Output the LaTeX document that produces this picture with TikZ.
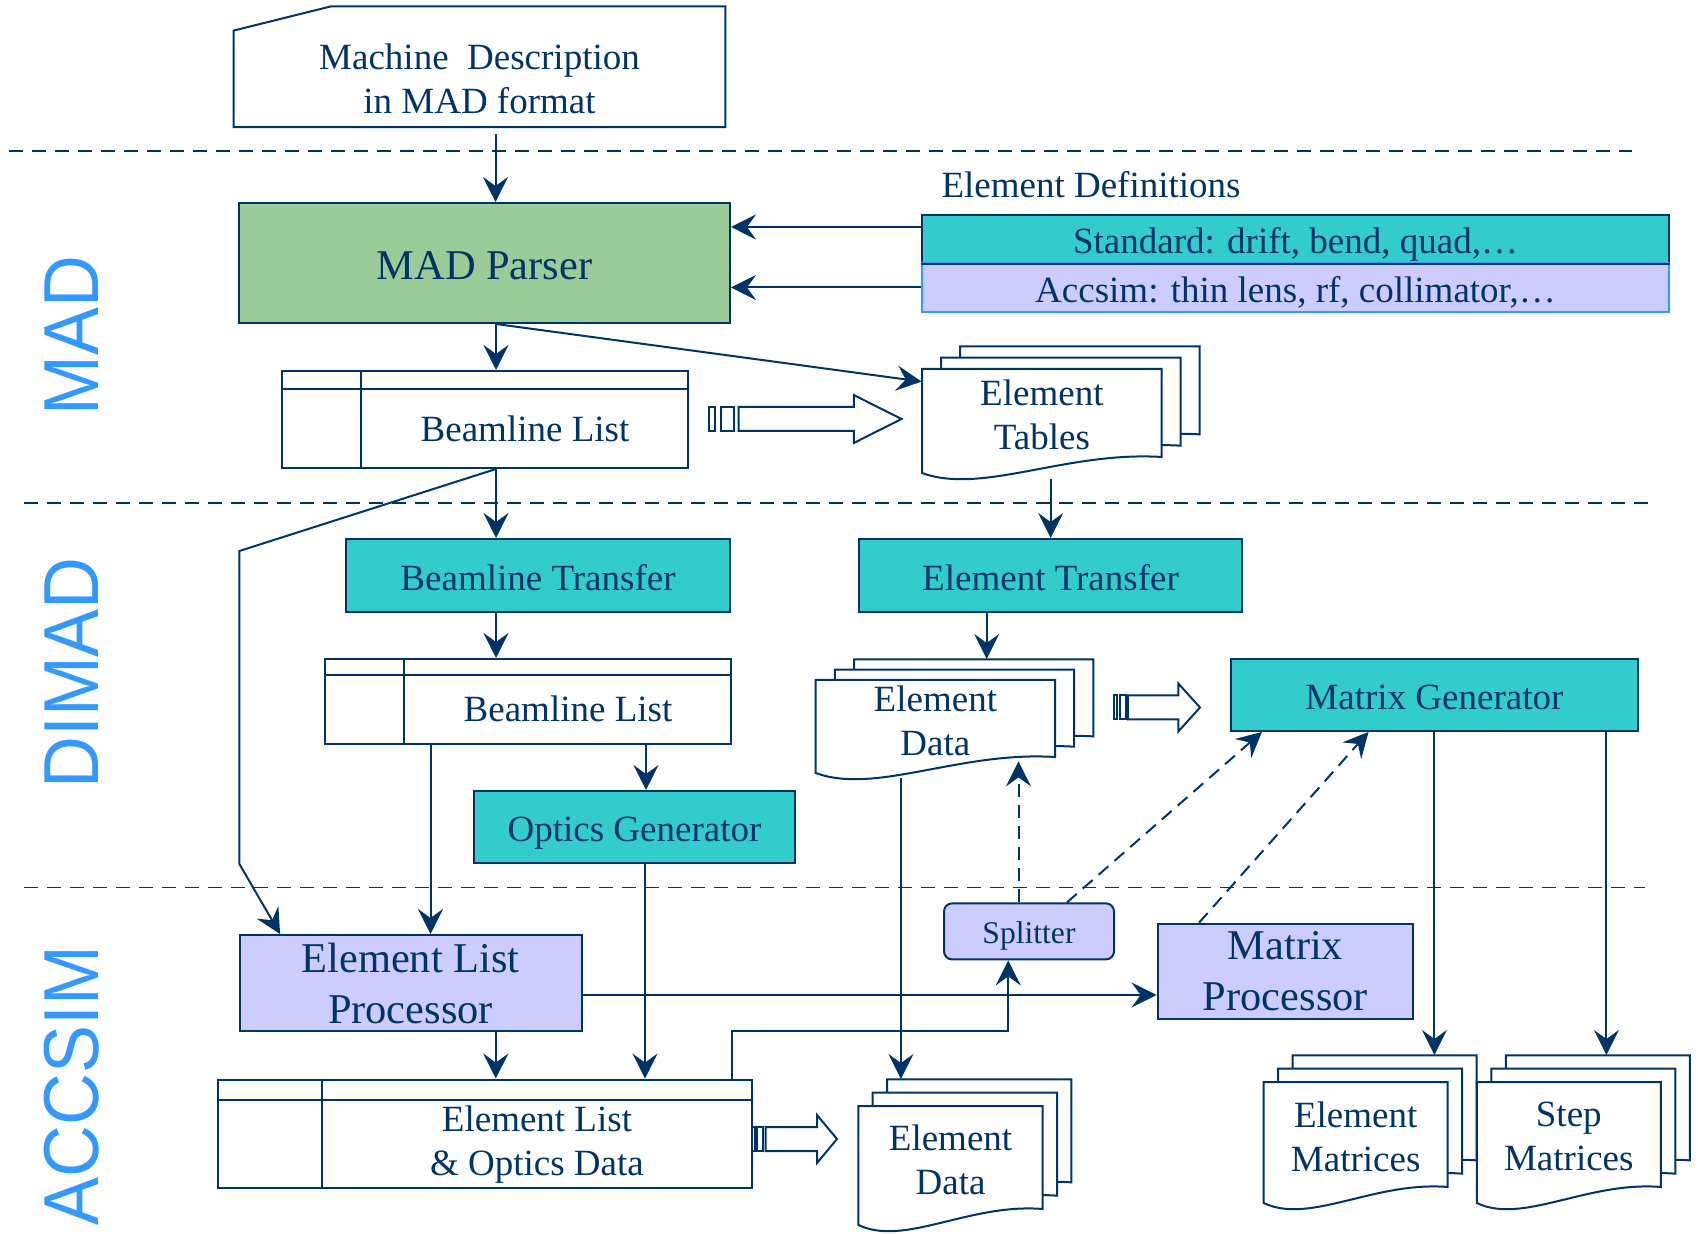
\documentclass[tikz,border=0pt]{standalone}
\usepackage{fontspec}
\setmainfont{Liberation Serif}
\newfontfamily\tierfamily{Liberation Sans}
\usepackage{tikz}
\usetikzlibrary{arrows.meta,positioning}
\definecolor{madnavy}{HTML}{003366}
\definecolor{madteal}{HTML}{33CCCC}
\definecolor{madlilac}{HTML}{CCCCFF}
\definecolor{madgreen}{HTML}{99CC99}
\definecolor{madsky}{HTML}{3399FF}
\newcommand{\madnorm}{\fontsize{18.5}{22}\selectfont}
\newcommand{\madbig}{\fontsize{21.2}{25.5}\selectfont}
\newcommand{\madsmall}{\fontsize{15.8}{19}\selectfont}
\newcommand{\madtier}{\tierfamily\fontsize{39}{39}\selectfont}

% stack of three pages with a wavy bottom: name, left, top, width, height, dx, dy, text
\newcommand{\docstack}[8]{%
  \foreach \k in {2,1,0}{
    \filldraw[outl, fill=white] (#2+\k*#6,#3-\k*#7) -- ++(#4,0) -- ++(0,#5-16)
      .. controls (#2+\k*#6+0.6*#4,#3-\k*#7+#5-22) and (#2+\k*#6+0.25*#4,#3-\k*#7+#5+22) .. (#2+\k*#6,#3-\k*#7+#5) -- cycle;
  }
  \node[inner sep=0pt, minimum width=#4*0.5pt, minimum height=#5*0.5pt] (#1) at (#2+#4/2,#3+#5/2) {};
  \node[inner sep=0pt, minimum width=#4*0.5pt, minimum height=#5*0.5pt] (#1b) at (#2+2*#6+#4/2,#3-2*#7+#5/2) {};
  \node[lbl] (#1t) at ([yshift=3pt]#1.center) {#8};
}

% block arrow with two bars: start, y, bar unit, head base, tip
\newcommand{\hollowarrow}[5]{%
  \draw[outl] (#1,#2-12) rectangle (#1+#3,#2+12);
  \draw[outl] (#1+1.8*#3,#2-12) rectangle (#1+3.8*#3,#2+12);
  \draw[outl] (#1+4.5*#3,#2-12) -- (#4,#2-12) -- (#4,#2-24) -- (#5,#2) -- (#4,#2+24) -- (#4,#2+12) -- (#1+4.5*#3,#2+12) -- cycle;
}

\begin{document}
\begin{tikzpicture}[x=0.5pt, y=-0.5pt,
  outl/.style={draw=madnavy, line width=1pt},
  box/.style={outl, fill=#1, text=madnavy, font=\madnorm, inner sep=0pt, align=center},
  oneline/.style={text height=#1, text depth=0pt},
  listbox/.style={outl, inner sep=0pt},
  arr/.style={outl, -{Stealth[length=12.5pt, width=12.5pt, inset=4.5pt]}},
  darr/.style={arr, dash pattern=on 6.5pt off 4pt},
  sep/.style={draw=madnavy, line width=0.8pt, dash pattern=on 7pt off 4.5pt},
  tier/.style={text=madsky, font=\madtier, rotate=90, inner sep=0pt},
  lbl/.style={text=madnavy, font=\madnorm, align=center, inner sep=0pt}
]
  \useasboundingbox (0,0) rectangle (1698,1234);

  % layer separators and layer names
  \draw[sep] (9,151) -- (1632,151);
  \draw[sep] (24,503) -- (1648,503);
  \draw[sep] (24,887.5) -- (1645,887.5);
  \node[tier] (tiermad) at (71.5,335.7) {\scalebox{0.92}[1]{MAD}};
  \node[tier] (tierdimad) at (71.5,673) {\scalebox{0.92}[1]{DIMAD}};
  \node[tier] (tieraccsim) at (71.5,1085.7) {\scalebox{0.92}[1]{ACCSIM}};

  % MAD
  \node[inner sep=0pt, minimum width=245.5pt, minimum height=60pt] (desc) at (479.5,66.7) {};
  \draw[outl] ([yshift=-12.15pt]desc.north west) -- ([xshift=48.85pt]desc.north west) -- (desc.north east) -- (desc.south east) -- (desc.south west) -- cycle;
  \node[lbl] (desctxt) at (479.5,79) {Machine\enspace Description\\in MAD format};

  \node[box=madgreen, font=\madbig, oneline=17pt, minimum width=245.5pt, minimum height=60pt] (parser) at (484.5,263) {MAD Parser};
  \node[lbl] (eldef) at (1091,185) {Element Definitions};
  \node[box=madteal, oneline=14.6pt, minimum width=373.5pt, minimum height=24pt] (std) at (1295.5,239) {Standard: drift, bend, quad,…};
  \node[box=madlilac, draw=madsky, oneline=14.6pt, minimum width=373.5pt, minimum height=24.5pt] (acc) at (1295.5,287.5) {Accsim: thin lens, rf, collimator,…};
  \draw[outl] (std.south west) -- (std.south east);

  \node[listbox, minimum width=203pt, minimum height=48.5pt] (bl1) at (485,419.5) {};
  \draw[outl] ([yshift=-9.5pt]bl1.north west) -- ([yshift=-9.5pt]bl1.north east);
  \draw[outl] ([xshift=40pt]bl1.north west) -- ([xshift=40pt]bl1.south west);
  \node[lbl] (bl1txt) at (525,429) {Beamline List};

  \docstack{tables}{922}{369}{239.7}{104}{19}{11.3}{Element\\Tables}
  \hollowarrow{708.7}{419}{6.67}{853.8}{901.5}

  % DIMAD
  \node[box=madteal, oneline=14.6pt, minimum width=192pt, minimum height=36.5pt] (btrans) at (538,575.5) {Beamline Transfer};
  \node[box=madteal, oneline=14.6pt, minimum width=191.5pt, minimum height=36.5pt] (etrans) at (1050.5,575.5) {Element Transfer};

  \node[listbox, minimum width=203pt, minimum height=42.5pt] (bl2) at (528,701.5) {};
  \draw[outl] ([yshift=-8.5pt]bl2.north west) -- ([yshift=-8.5pt]bl2.north east);
  \draw[outl] ([xshift=40pt]bl2.north west) -- ([xshift=40pt]bl2.south west);
  \node[lbl] (bl2txt) at (568,709) {Beamline List};

  \node[box=madteal, oneline=14.6pt, minimum width=160.5pt, minimum height=36pt] (optics) at (634.5,827) {Optics Generator};
  \docstack{edmid}{815.7}{680}{239.3}{93}{19.2}{10.3}{Element\\Data}
  \hollowarrow{1114.3}{707.5}{3}{1178.3}{1200}
  \node[box=madteal, oneline=14.6pt, minimum width=203.5pt, minimum height=35.75pt] (mgen) at (1434.4,695.25) {Matrix Generator};

  % ACCSIM
  \node[box=madlilac, font=\madsmall, oneline=12.4pt, rounded corners=4pt, minimum width=85pt, minimum height=28pt] (splitter) at (1029,931.4) {Splitter};
  \node[box=madlilac, font=\madbig, minimum width=171pt, minimum height=48pt] (elp) at (410.5,983) {Element List\\Processor};
  \node[box=madlilac, font=\madbig, minimum width=127.8pt, minimum height=47.65pt] (mproc) at (1285.4,971.4) {Matrix\\Processor};

  \node[listbox, minimum width=267pt, minimum height=54.2pt] (elod) at (484.6,1133.8) {};
  \draw[outl] ([yshift=-10.5pt]elod.north west) -- ([yshift=-10.5pt]elod.north east);
  \draw[outl] ([xshift=52.5pt]elod.north west) -- ([xshift=52.5pt]elod.south west);
  \node[lbl] (elodtxt) at (537,1145) {Element List\\\& Optics Data};

  \docstack{edbot}{858.4}{1106}{184.3}{119}{14.3}{13.3}{Element\\Data}
  \hollowarrow{752}{1139}{3}{817}{837}
  \docstack{emat}{1263.7}{1082}{184}{121}{14.5}{13.3}{Element\\Matrices}
  \docstack{smat}{1476.8}{1082}{184}{121}{14.5}{13.3}{Step\\Matrices}

  % connectors
  \draw[arr, shorten <=3.5pt] ([xshift=8pt]desc.south) -- ([xshift=8pt]desc.south |- parser.north);
  \draw[arr] ([yshift=6pt]std.west) -- ([yshift=6pt]std.west -| parser.east);
  \draw[arr] (acc.west) -- (acc.west -| parser.east);
  \draw[arr] ([xshift=5.75pt]parser.south) -- ([xshift=5.75pt]parser.south |- bl1.north);
  \draw[arr] ([xshift=5.75pt]parser.south) -- ([yshift=-6.5pt]tables.north west);
  \draw[arr] ([xshift=5.5pt]bl1.south) -- ([xshift=5.5pt]bl1.south |- btrans.north);
  \coordinate (bendA) at (239.4,551);
  \coordinate (bendB) at (239.4,864);
  \draw[arr] ([xshift=5.5pt]bl1.south) -- (bendA) -- (bendB) -- ([xshift=20.8pt]elp.north west);
  \draw[arr] ([xshift=4.4pt,yshift=-3pt]tables.south) -- ([xshift=4.4pt]tables.south |- etrans.north);
  \draw[arr] ([xshift=-21pt]btrans.south) -- ([xshift=-21pt]btrans.south |- bl2.north);
  \draw[arr] ([xshift=-31.9pt]etrans.south) -- ([xshift=-31.9pt]etrans.south |- edmidb.north);
  \draw[arr] ([xshift=-43pt]bl2.south east) -- ([xshift=-43pt]bl2.south east |- optics.north);
  \draw[arr] ([xshift=53.25pt]bl2.south west) -- ([xshift=53.25pt]bl2.south west |- elp.north);
  \draw[arr] ([xshift=5.25pt]optics.south) -- ([xshift=5.25pt]optics.south |- elod.north);
  \draw[arr] ([xshift=42.65pt]elp.south) -- ([xshift=42.65pt]elp.south |- elod.north);
  \draw[arr] ([yshift=-6pt]elp.east) -- ([yshift=-6pt]elp.east -| mproc.west);
  \draw[arr] ([xshift=-10.25pt]elod.north east) -- ++(0,-47.5) -| ([xshift=-10.4pt]splitter.south);
  \draw[arr] ([xshift=-17.2pt,yshift=-2.5pt]edmid.south) -- ([xshift=-17.2pt]edmid.south |- edbotb.north);
  \draw[darr, shorten >=-6pt] ([xshift=-5.25pt]splitter.north) -- ([xshift=-5.25pt]splitter.north |- edmid.south);
  \draw[darr] ([xshift=19pt]splitter.north) -- ([xshift=16pt]mgen.south west);
  \draw[darr] ([xshift=21.2pt]mproc.north west) -- ([xshift=69.3pt]mgen.south west);
  \draw[arr] (mgen.south) -- (mgen.south |- ematb.north);
  \draw[arr] ([xshift=-16.25pt]mgen.south east) -- ([xshift=-16.25pt]mgen.south east |- smatb.north);
\end{tikzpicture}
\end{document}
